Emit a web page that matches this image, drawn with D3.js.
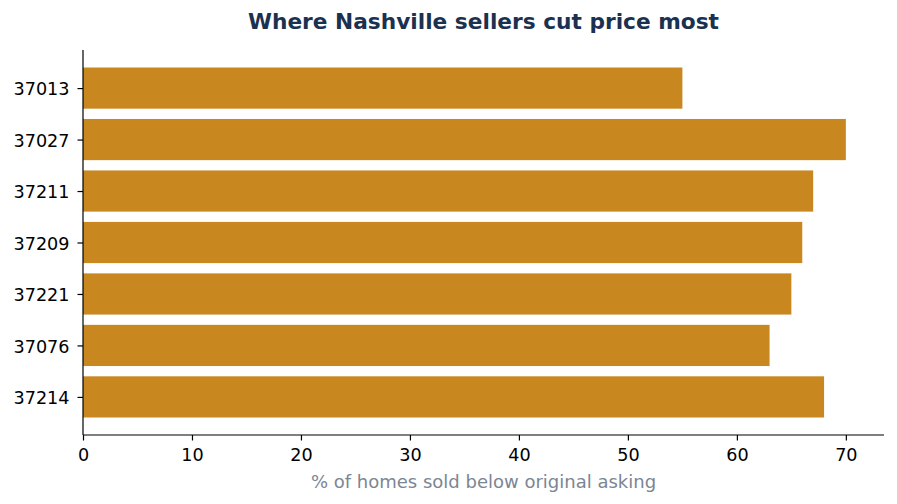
<!DOCTYPE html>
<html><head><meta charset="utf-8">
<script src="https://cdn.jsdelivr.net/npm/d3@7"></script>
<style>body{margin:0;background:#fff}svg{display:block;font-family:"DejaVu Sans",sans-serif}</style>
</head><body>
<script>
const zips = ["37013","37027","37211","37209","37221","37076","37214"];
const pctBelow = [55, 70, 67, 66, 65, 63, 68];
const xTicks = [0,10,20,30,40,50,60,70];
const titleText = "Where Nashville sellers cut price most";
const xLabel = "% of homes sold below original asking";

const W=897,H=504, L=83, R=884, T=50, B=435;
const svg=d3.select("body").append("svg").attr("width",W).attr("height",H);
const x=d3.scaleLinear().domain([0,73.5]).range([L,R]);
const y=d3.scaleLinear().domain([-0.74, zips.length-1+0.74]).range([T,B]);
const bh=0.8;

svg.selectAll("rect.bar").data(zips).enter().append("rect")
  .attr("x",x(0)).attr("y",(d,i)=>y(i-bh/2))
  .attr("width",(d,i)=>x(pctBelow[i])-x(0))
  .attr("height",y(bh)-y(0))
  .attr("fill","#c8871f");

const xa=svg.append("g").attr("transform",`translate(0,${B})`)
  .call(d3.axisBottom(x).tickValues(xTicks).tickSize(5.5).tickPadding(8.5).tickSizeOuter(0));
const ya=svg.append("g").attr("transform",`translate(${L},0)`)
  .call(d3.axisLeft(y).tickValues(d3.range(zips.length)).tickFormat(i=>zips[i]).tickSize(5.5).tickPadding(8).tickSizeOuter(0));
[xa,ya].forEach(g=>{
  g.attr("font-size",null).attr("font-family",null);
  g.selectAll("text").style("font-size","17.6px").attr("fill","#000").style("font-family","DejaVu Sans");
  g.selectAll("line").attr("stroke","#000").attr("stroke-width",1.2);
  g.select(".domain").attr("stroke","#000").attr("stroke-width",1.2);
});
ya.selectAll("text").attr("dy","0.38em");
ya.select(".domain").attr("d",`M0,${T}V${B}`);
xa.select(".domain").attr("d",`M${L},0H${R}`);

svg.append("text").attr("x",(L+R)/2).attr("y",29).attr("text-anchor","middle")
  .style("font-size","21.7px").attr("font-weight","bold").attr("fill","#1b3150").text(titleText);
svg.append("text").attr("x",(L+R)/2).attr("y",488).attr("text-anchor","middle")
  .style("font-size","18px").attr("fill","#7b8694").text(xLabel);
</script>
</body></html>
